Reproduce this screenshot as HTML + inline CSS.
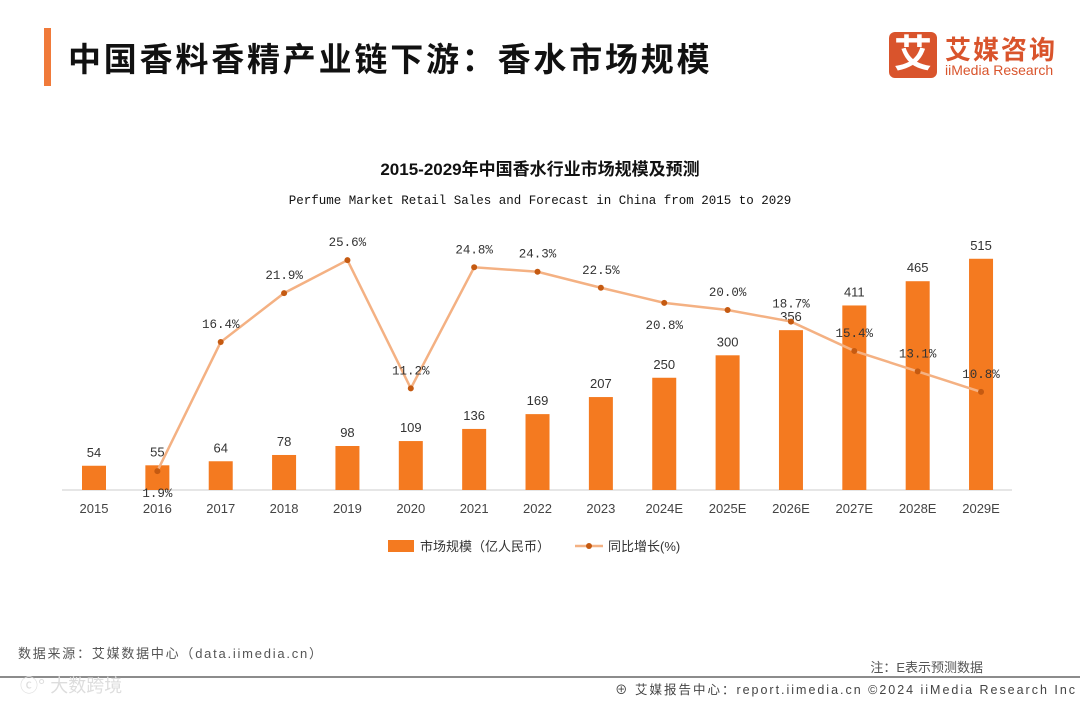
<!DOCTYPE html>
<html><head><meta charset="utf-8"><style>
body{margin:0;width:1080px;height:702px;background:#fff;overflow:hidden;position:relative;font-family:"Liberation Sans","Noto Sans CJK SC",sans-serif}
.abs{position:absolute}
</style></head><body>
<div class="abs" style="left:44px;top:28px;width:7px;height:58px;background:#f07a3a"></div>
<div class="abs" style="left:68px;top:33px;font-size:33px;font-weight:bold;color:#111;letter-spacing:2.8px">中国香料香精产业链下游：香水市场规模</div>
<div class="abs" style="left:889px;top:32px;width:170px;height:48px">
 <div style="position:absolute;left:0;top:0;width:48px;height:46px;background:#d9542c;border-radius:6px;color:#fff;font-size:38px;font-weight:bold;text-align:center;line-height:46px">艾</div>
 <div style="position:absolute;left:56px;top:-2px;font-size:26px;font-weight:bold;color:#d9542c;letter-spacing:2px">艾媒咨询</div>
 <div style="position:absolute;left:56px;top:30px;font-size:14px;color:#d9542c;white-space:nowrap">iiMedia Research</div>
</div>
<svg class="abs" style="left:0;top:0" width="1080" height="702">
<text x="540" y="175" text-anchor="middle" font-size="17" font-weight="bold" fill="#111">2015-2029年中国香水行业市场规模及预测</text>
<text x="540" y="204" text-anchor="middle" font-size="12.5" font-family="Liberation Mono,monospace" fill="#111">Perfume Market Retail Sales and Forecast in China from 2015 to 2029</text>
<line x1="62" y1="490" x2="1012" y2="490" stroke="#ccc"/>
<g id="g"></g>
<g>
<rect x="388" y="540" width="26" height="12" fill="#f47a20"/>
<text x="420" y="551" font-size="13" fill="#333">市场规模（亿人民币）</text>
<line x1="575" y1="546" x2="603" y2="546" stroke="#f4b183" stroke-width="2.5"/>
<circle cx="589" cy="546" r="3" fill="#c55a11"/>
<text x="608" y="551" font-size="13" fill="#333">同比增长(%)</text>
</g>
<text x="18" y="658" font-size="13" fill="#555" textLength="304">数据来源：艾媒数据中心（data.iimedia.cn）</text>
<text x="983" y="672" text-anchor="end" font-size="13" fill="#555">注：E表示预测数据</text>
<line x1="0" y1="677" x2="1080" y2="677" stroke="#666" stroke-width="1.5"/>
<text x="20" y="692" font-size="18" fill="#ddd">ⓒ° 大数跨境</text>
<text x="615" y="694" font-size="12.5" fill="#444" textLength="460">⊕ 艾媒报告中心：report.iimedia.cn  ©2024   iiMedia Research  Inc</text>
</svg>
<script>
const categories=["2015","2016","2017","2018","2019","2020","2021","2022","2023","2024E","2025E","2026E","2027E","2028E","2029E"];
const sales=[54,55,64,78,98,109,136,169,207,250,300,356,411,465,515];
const growth=[null,1.9,16.4,21.9,25.6,11.2,24.8,24.3,22.5,20.8,20.0,18.7,15.4,13.1,10.8];
const below=[false,true,false,false,false,false,false,false,false,true,false,false,false,false,false];
const NS="http://www.w3.org/2000/svg";
const g=document.getElementById('g');
const x=i=>94+i*63.36;
const yb=v=>490-v*0.449;
const yl=v=>488-v*8.9;
function mk(t,a){const e=document.createElementNS(NS,t);for(const k in a)e.setAttribute(k,a[k]);g.appendChild(e);return e;}
categories.forEach((c,i)=>{
 const r=mk('rect',{x:x(i)-12,y:yb(sales[i]),width:24,height:490-yb(sales[i]),fill:'#f47a20'});
 
 
 const t=mk('text',{x:x(i),y:yb(sales[i])-9,'text-anchor':'middle','font-size':13,fill:'#333'});t.textContent=sales[i];
 
 
 const a=mk('text',{x:x(i),y:513,'text-anchor':'middle','font-size':13,fill:'#444'});a.textContent=c;
 
 
});
let pts=[];growth.forEach((v,i)=>{if(v!==null)pts.push(x(i)+','+yl(v));});
const pl=mk('polyline',{points:pts.join(' '),fill:'none',stroke:'#f4b183','stroke-width':2.5});


growth.forEach((v,i)=>{if(v===null)return;
 const c=mk('circle',{cx:x(i),cy:yl(v),r:3,fill:'#c55a11'});
 
 
 const t=mk('text',{x:x(i),y:below[i]?yl(v)+26:yl(v)-14,'text-anchor':'middle','font-size':12.5,'font-family':'Liberation Mono,monospace',fill:'#333'});t.textContent=v.toFixed(1)+'%';
 
 
});
</script>
</body></html>
